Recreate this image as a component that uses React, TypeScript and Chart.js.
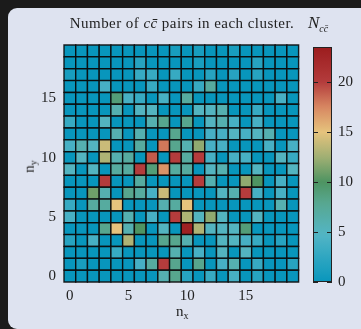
import React, { useEffect, useRef } from "react";
import { Chart, registerables } from "chart.js";
Chart.register(...registerables);

// ---- data ----
const nxTicks = [0, 5, 10, 15];
const nyTicks = [0, 5, 10, 15];
const cbarTicks = [0, 5, 10, 15, 20];
const vMin = 0;
const vMax = 23.5;
// N_ccbar per cell; rows listed from n_y = 19 (top) down to n_y = 0 (bottom), columns n_x = 0..19
const counts: number[][] = [
  [0, 0, 0, 0, 0, 0, 0, 0, 0, 1, 0, 1, 0, 0, 1, 0, 0, 0, 0, 0],
  [0, 0, 0, 0, 0, 0, 2, 0, 0, 0, 0, 1, 0, 0, 0, 0, 2, 0, 0, 0],
  [1, 0, 0, 0, 0, 0, 3, 3, 0, 3, 0, 0, 2, 0, 2, 0, 2, 0, 0, 0],
  [0, 0, 0, 4, 0, 0, 0, 3, 0, 0, 0, 3, 7, 0, 0, 0, 0, 0, 0, 0],
  [0, 0, 0, 0, 9, 4, 3, 0, 4, 0, 7, 0, 0, 0, 0, 0, 0, 0, 4, 0],
  [0, 0, 0, 0, 6, 0, 5, 5, 0, 0, 0, 5, 5, 6, 0, 0, 3, 0, 0, 0],
  [3, 0, 0, 5, 0, 0, 0, 6, 8, 0, 8, 0, 5, 6, 4, 0, 4, 0, 0, 0],
  [0, 0, 0, 0, 6, 0, 6, 0, 0, 8, 0, 0, 4, 4, 5, 4, 5, 6, 0, 0],
  [4, 6, 5, 14, 0, 0, 7, 0, 18, 8, 6, 12, 4, 4, 0, 0, 0, 4, 0, 4],
  [0, 5, 0, 13, 6, 7, 0, 19, 0, 20, 7, 20, 4, 0, 4, 4, 0, 0, 5, 3],
  [5, 0, 5, 0, 7, 7, 20, 9, 17, 7, 7, 0, 5, 6, 0, 0, 5, 0, 0, 5],
  [0, 0, 0, 20, 0, 0, 7, 0, 0, 0, 0, 20, 6, 0, 0, 12, 10, 0, 4, 0],
  [0, 0, 11, 6, 0, 8, 7, 4, 14, 0, 0, 0, 0, 5, 6, 20, 4, 0, 4, 0],
  [3, 0, 7, 7, 15, 0, 0, 0, 6, 7, 15, 0, 0, 0, 0, 0, 0, 0, 6, 0],
  [4, 0, 0, 0, 0, 6, 0, 4, 0, 20, 13, 5, 12, 5, 0, 0, 5, 0, 0, 0],
  [0, 0, 0, 8, 15, 6, 10, 0, 5, 0, 23, 13, 5, 5, 5, 9, 0, 0, 0, 0],
  [2, 0, 4, 0, 0, 13, 0, 0, 8, 8, 6, 0, 0, 5, 5, 4, 3, 0, 2, 0],
  [0, 0, 0, 0, 3, 0, 0, 0, 0, 6, 0, 4, 0, 5, 0, 5, 0, 0, 0, 0],
  [0, 1, 0, 0, 0, 0, 4, 7, 20, 8, 0, 8, 0, 4, 6, 0, 3, 0, 0, 2],
  [0, 0, 0, 0, 0, 0, 0, 0, 6, 8, 2, 0, 3, 0, 4, 0, 2, 0, 0, 0],
];
// colormap stops
const cmapValues = [0, 4.7, 7.8, 10, 12.5, 15, 17.6, 20, 23.5];
const cmapColors = [
  [8, 150, 188],
  [82, 181, 197],
  [88, 168, 146],
  [78, 148, 98],
  [160, 175, 115],
  [230, 195, 125],
  [214, 132, 96],
  [180, 60, 60],
  [155, 28, 30],
];

function colorFor(v: number): string {
  const t = Math.max(vMin, Math.min(vMax, v));
  for (let i = 0; i < cmapValues.length - 1; i++) {
    const a = cmapValues[i], b = cmapValues[i + 1];
    if (t <= b) {
      const f = (t - a) / (b - a);
      const c0 = cmapColors[i], c1 = cmapColors[i + 1];
      const c = c0.map((x, k) => Math.round(x + (c1[k] - x) * f));
      return `rgb(${c[0]},${c[1]},${c[2]})`;
    }
  }
  const c = cmapColors[cmapColors.length - 1];
  return `rgb(${c[0]},${c[1]},${c[2]})`;
}

const FONT = "'Liberation Serif', 'DejaVu Serif', serif";

export default function App() {
  const mainRef = useRef<HTMLCanvasElement>(null);
  const barRef = useRef<HTMLCanvasElement>(null);

  useEffect(() => {
    const cells: { x: number; y: number; v: number }[] = [];
    const nRows = counts.length;
    counts.forEach((row, k) => {
      row.forEach((v, i) => cells.push({ x: i, y: nRows - 1 - k, v }));
    });
    const nCols = counts[0].length;
    const cellRadius = (c: any) => {
      const a = c.chart.chartArea;
      if (!a) return 5;
      return (a.right - a.left) / nCols / Math.SQRT2;
    };

    const main = new Chart(mainRef.current!, {
      type: "scatter",
      data: {
        datasets: [
          {
            data: cells as any,
            pointStyle: "rect",
            pointRadius: cellRadius,
            pointHoverRadius: cellRadius,
            pointBackgroundColor: (c: any) => colorFor(c.raw ? c.raw.v : 0),
            pointBorderColor: "rgba(10,10,10,0.9)",
            pointBorderWidth: 1.4,
            clip: false as any,
          } as any,
        ],
      },
      options: {
        responsive: false,
        animation: false,
        events: [],
        layout: { padding: { left: 0, right: 4, top: 45, bottom: 0 } },
        plugins: { legend: { display: false }, tooltip: { enabled: false }, title: { display: false } },
        scales: {
          x: {
            type: "linear",
            min: -0.5,
            max: nCols - 0.5,
            grid: { display: false, drawTicks: false },
            border: { display: false },
            afterBuildTicks: (s: any) => {
              s.ticks = nxTicks.map((v) => ({ value: v }));
            },
            afterFit: (s: any) => {
              s.height = 47;
            },
            ticks: { color: "#222", font: { family: FONT, size: 15 }, padding: 5, maxRotation: 0 },
          },
          y: {
            type: "linear",
            min: -0.5,
            max: nRows - 0.5,
            grid: { display: false, drawTicks: false },
            border: { display: false },
            afterBuildTicks: (s: any) => {
              s.ticks = nyTicks.map((v) => ({ value: v }));
            },
            afterFit: (s: any) => {
              s.width = 64;
            },
            ticks: { color: "#222", font: { family: FONT, size: 15 }, padding: 8 },
          },
        },
      },
    });

    const inwardTicks = {
      id: "inwardTicks",
      afterDatasetsDraw(chart: any) {
        const { ctx, chartArea: a } = chart;
        const y = chart.scales.y;
        ctx.save();
        ctx.strokeStyle = "#222";
        ctx.lineWidth = 1;
        cbarTicks.forEach((v) => {
          const py = Math.round(y.getPixelForValue(v)) + 0.5;
          ctx.beginPath();
          ctx.moveTo(a.left, py);
          ctx.lineTo(a.left + 5, py);
          ctx.moveTo(a.right - 5, py);
          ctx.lineTo(a.right, py);
          ctx.stroke();
        });
        ctx.strokeRect(a.left + 0.5, a.top + 0.5, a.right - a.left - 1, a.bottom - a.top - 1);
        ctx.restore();
      },
    };

    const bar = new Chart(barRef.current!, {
      type: "bar",
      data: {
        labels: ["N"],
        datasets: [
          {
            data: [[vMin, vMax]] as any,
            barPercentage: 1,
            categoryPercentage: 1,
            borderWidth: 0,
            backgroundColor: (c: any) => {
              const ch = c.chart;
              const a = ch.chartArea;
              if (!a) return colorFor(0);
              const ys = ch.scales.y;
              const g = ch.ctx.createLinearGradient(0, ys.getPixelForValue(vMin), 0, ys.getPixelForValue(vMax));
              for (let v = vMin; v <= vMax + 1e-9; v += 0.5) {
                g.addColorStop((v - vMin) / (vMax - vMin), colorFor(v));
              }
              return g;
            },
          } as any,
        ],
      },
      options: {
        responsive: false,
        animation: false,
        events: [],
        layout: { padding: { left: 8, right: 0, top: 47, bottom: 47 } },
        plugins: { legend: { display: false }, tooltip: { enabled: false } },
        scales: {
          x: { display: false },
          y: {
            position: "right",
            min: vMin,
            max: vMax,
            grid: { display: false, drawTicks: false },
            border: { display: false },
            afterBuildTicks: (s: any) => {
              s.ticks = cbarTicks.map((v) => ({ value: v }));
            },
            afterFit: (s: any) => {
              s.width = 29;
            },
            ticks: { color: "#222", font: { family: FONT, size: 15 }, padding: 6 },
          },
        },
      },
      plugins: [inwardTicks],
    });

    return () => {
      main.destroy();
      bar.destroy();
    };
  }, []);

  const txt: React.CSSProperties = { position: "absolute", fontFamily: FONT, color: "#222", whiteSpace: "nowrap", lineHeight: 1 };

  return (
    <div style={{ position: "fixed", left: 0, top: 0, width: 361, height: 329, background: "#1b1b1b", overflow: "hidden" }}>
      <div style={{ position: "absolute", left: 8, top: 8, width: 420, height: 321, background: "rgb(222,227,240)", borderRadius: 9 }} />
      <canvas ref={mainRef} width={305} height={329} style={{ position: "absolute", left: 0, top: 0, width: 305, height: 329 }} />
      <canvas ref={barRef} width={56} height={329} style={{ position: "absolute", left: 305, top: 0, width: 56, height: 329 }} />
      <div style={{ ...txt, left: 67, width: 230, top: 16, textAlign: "center", fontSize: 15, letterSpacing: 0.45 }}>
        Number of <i>c{"c\u0304"}</i> pairs in each cluster.
      </div>
      <div style={{ ...txt, left: 308, top: 14, fontSize: 17 }}>
        <i>N</i>
        <sub style={{ fontSize: 10, fontStyle: "italic", verticalAlign: "-4px" }}>{"cc\u0304"}</sub>
      </div>
      <div style={{ ...txt, left: 176, top: 304, fontSize: 15 }}>
        n<sub style={{ fontSize: 10, verticalAlign: "-3px" }}>x</sub>
      </div>
      <div style={{ ...txt, left: 24, top: 158, fontSize: 15, transform: "rotate(-90deg)", transformOrigin: "center" }}>
        n<sub style={{ fontSize: 10, verticalAlign: "-3px" }}>y</sub>
      </div>
    </div>
  );
}
